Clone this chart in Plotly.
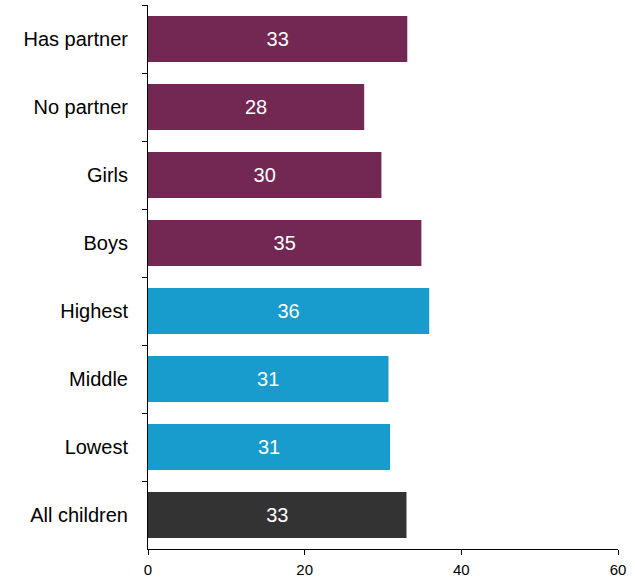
import plotly.graph_objects as go

categories = ["Has partner", "No partner", "Girls", "Boys", "Highest", "Middle", "Lowest", "All children"]
values = [33.1, 27.6, 29.8, 34.9, 35.9, 30.7, 30.9, 33.0]
labels = ["33", "28", "30", "35", "36", "31", "31", "33"]
groups = ["partner", "partner", "sex", "sex", "wealth", "wealth", "wealth", "all"]
color_map = {"partner": "#722852", "sex": "#722852", "wealth": "#189BCD", "all": "#333333"}
x_ticks = [0, 20, 40, 60]

fig = go.Figure(go.Bar(
    y=categories, x=values, orientation="h",
    marker=dict(color=[color_map[g] for g in groups], line=dict(width=0)),
    text=labels, textposition="inside", insidetextanchor="middle",
    textfont=dict(color="white", size=20, family="Liberation Sans, Arial"),
    width=0.68,
))

fig.update_layout(
    width=635, height=577,
    margin=dict(l=148, r=17, t=5, b=28),
    plot_bgcolor="white", paper_bgcolor="white",
    font=dict(family="Liberation Sans, Arial", color="black"),
    showlegend=False,
    bargap=0.32,
)
fig.update_xaxes(
    range=[0, 60], tickvals=x_ticks, showgrid=False, zeroline=False,
    showline=True, linecolor="black", linewidth=1,
    ticks="outside", ticklen=5, tickcolor="black",
    tickfont=dict(size=15), ticklabelstandoff=2, automargin=False,
)
fig.update_yaxes(
    autorange="reversed", showgrid=False, zeroline=False,
    showline=True, linecolor="black", linewidth=1,
    ticks="outside", ticklen=5, tickcolor="black", tickson="boundaries",
    tickfont=dict(size=20), ticklabelstandoff=15, automargin=False,
)

fig.write_html("out.html")
